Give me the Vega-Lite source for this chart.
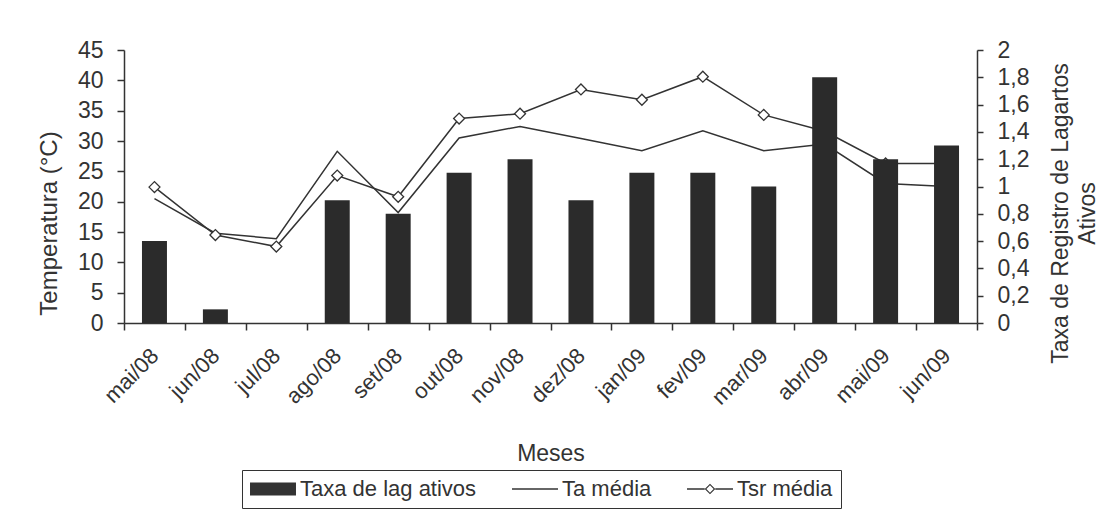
{
  "$schema": "https://vega.github.io/schema/vega-lite/v6.json",
  "width": 853,
  "height": 273,
  "autosize": {"type": "none"},
  "padding": {"left": 124, "top": 50, "right": 121, "bottom": 204},
  "background": "#ffffff",
  "config": {
    "font": "Liberation Sans",
    "view": {"stroke": null},
    "axis": {
      "grid": false,
      "domainColor": "#333333",
      "tickColor": "#333333",
      "labelColor": "#333333",
      "titleColor": "#333333",
      "labelFont": "Liberation Sans",
      "titleFont": "Liberation Sans",
      "titleFontWeight": "normal",
      "domainWidth": 1.5,
      "tickWidth": 1.5
    }
  },
  "data": {
    "values": [
      {"mes": "mai/08", "taxa": 0.6, "ta": 20.5, "tsr": 22.4},
      {"mes": "jun/08", "taxa": 0.1, "ta": 14.8, "tsr": 14.5},
      {"mes": "jul/08", "taxa": 0.0, "ta": 13.9, "tsr": 12.6},
      {"mes": "ago/08", "taxa": 0.9, "ta": 28.3, "tsr": 24.3},
      {"mes": "set/08", "taxa": 0.8, "ta": 18.2, "tsr": 20.8},
      {"mes": "out/08", "taxa": 1.1, "ta": 30.5, "tsr": 33.7},
      {"mes": "nov/08", "taxa": 1.2, "ta": 32.4, "tsr": 34.5},
      {"mes": "dez/08", "taxa": 0.9, "ta": 30.4, "tsr": 38.5},
      {"mes": "jan/09", "taxa": 1.1, "ta": 28.4, "tsr": 36.8},
      {"mes": "fev/09", "taxa": 1.1, "ta": 31.7, "tsr": 40.6},
      {"mes": "mar/09", "taxa": 1.0, "ta": 28.4, "tsr": 34.3},
      {"mes": "abr/09", "taxa": 1.8, "ta": 29.5, "tsr": 31.6},
      {"mes": "mai/09", "taxa": 1.2, "ta": 23.0, "tsr": 26.3},
      {"mes": "jun/09", "taxa": 1.3, "ta": 22.5, "tsr": 26.3}
    ]
  },
  "layer": [
    {
      "layer": [
        {
          "mark": {"type": "line", "color": "#333333", "strokeWidth": 1.5},
          "encoding": {
            "x": {
              "field": "mes", "type": "ordinal",
              "scale": {"domain": ["mai/08","jun/08","jul/08","ago/08","set/08","out/08","nov/08","dez/08","jan/09","fev/09","mar/09","abr/09","mai/09","jun/09"], "paddingInner": 0, "paddingOuter": 0},
              "axis": {"title": "Meses", "titleFontSize": 23, "titleY": 137, "titleBaseline": "alphabetic", "labelAngle": -45, "labelAlign": "right", "labelBaseline": "middle", "labelFontSize": 22, "labelPadding": 22, "tickBand": "extent", "tickSize": 7, "labelOverlap": false, "labelBound": false}
            },
            "y": {
              "field": "ta", "type": "quantitative",
              "scale": {"domain": [0, 45], "nice": false},
              "axis": {"title": "Temperatura (°C)", "values": [0,5,10,15,20,25,30,35,40,45], "tickSize": 7, "labelPadding": 14, "labelFontSize": 23, "titleFontSize": 24, "titleX": -68, "titleY": 173, "titleBaseline": "alphabetic", "titleAlign": "center", "titleAngle": 270}
            }
          }
        },
        {
          "mark": {"type": "line", "color": "#333333", "strokeWidth": 1.5},
          "encoding": {
            "x": {"field": "mes", "type": "ordinal"},
            "y": {
              "field": "tsr", "type": "quantitative",
              "scale": {"domain": [0, 45], "nice": false},
              "axis": {"title": "Temperatura (°C)", "values": [0,5,10,15,20,25,30,35,40,45], "tickSize": 7, "labelPadding": 14, "labelFontSize": 23, "titleFontSize": 24, "titleX": -68, "titleY": 173, "titleBaseline": "alphabetic", "titleAlign": "center", "titleAngle": 270}
            }
          }
        },
        {
          "mark": {"type": "point", "shape": "diamond", "filled": false, "fill": "#ffffff", "fillOpacity": 1, "stroke": "#333333", "strokeWidth": 1.3, "size": 120, "opacity": 1},
          "encoding": {
            "x": {"field": "mes", "type": "ordinal"},
            "y": {
              "field": "tsr", "type": "quantitative",
              "scale": {"domain": [0, 45], "nice": false},
              "axis": {"title": "Temperatura (°C)", "values": [0,5,10,15,20,25,30,35,40,45], "tickSize": 7, "labelPadding": 14, "labelFontSize": 23, "titleFontSize": 24, "titleX": -68, "titleY": 173, "titleBaseline": "alphabetic", "titleAlign": "center", "titleAngle": 270}
            }
          }
        },
        {
          "data": {"values": [{"serie": "Taxa de lag ativos"}, {"serie": "Ta média"}, {"serie": "Tsr média"}]},
          "mark": {"type": "point", "filled": true, "color": "#333333", "opacity": 0},
          "encoding": {
            "shape": {
              "field": "serie", "type": "nominal",
              "scale": {
                "domain": ["Taxa de lag ativos", "Ta média", "Tsr média"],
                "range": [
                  "M-2.09,-0.59L2.09,-0.59L2.09,0.59L-2.09,0.59Z",
                  "M-2.09,-0.075L2.09,-0.075L2.09,0.075L-2.09,0.075Z",
                  "M-2.09,-0.075L-0.48,-0.075L-0.48,0.075L-2.09,0.075Z M0.48,-0.075L2.09,-0.075L2.09,0.075L0.48,0.075Z M0,-0.48L0.48,0L0,0.48L-0.48,0Z M0,-0.33L-0.33,0L0,0.33L0.33,0Z"
                ]
              },
              "legend": {
                "title": null, "orient": "none", "legendX": 118, "legendY": 420, "direction": "horizontal",
                "symbolSize": 484, "symbolOffset": 12, "symbolFillColor": "#333333", "symbolStrokeWidth": 0, "symbolOpacity": 1,
                "labelFontSize": 22, "labelColor": "#333333", "labelLimit": 400, "labelOffset": 16, "labelFont": "Liberation Sans",
                "columnPadding": 35, "padding": 8, "strokeColor": "#333333",
                "encode": {"legend": {"update": {"strokeWidth": {"value": 1.5}}}}
              }
            }
          }
        }
      ]
    },
    {
      "mark": {"type": "bar", "width": {"band": 0.41}, "color": "#2b2b2b"},
      "encoding": {
        "x": {"field": "mes", "type": "ordinal"},
        "y": {
          "field": "taxa", "type": "quantitative",
          "scale": {"domain": [0, 2], "nice": false},
          "axis": {"orient": "right", "title": ["Taxa de Registro de Lagartos", "Ativos"], "values": [0,0.2,0.4,0.6,0.8,1,1.2,1.4,1.6,1.8,2], "labelExpr": "replace(format(datum.value, '.1~f'), '.', ',')", "tickSize": 6, "labelPadding": 14, "labelFontSize": 23, "titleFontSize": 23, "titleAngle": 270, "titleX": 90, "titleY": 163, "titleBaseline": "alphabetic", "titleAlign": "center", "titleLineHeight": 27}
        }
      }
    }
  ],
  "resolve": {"scale": {"y": "independent"}}
}
